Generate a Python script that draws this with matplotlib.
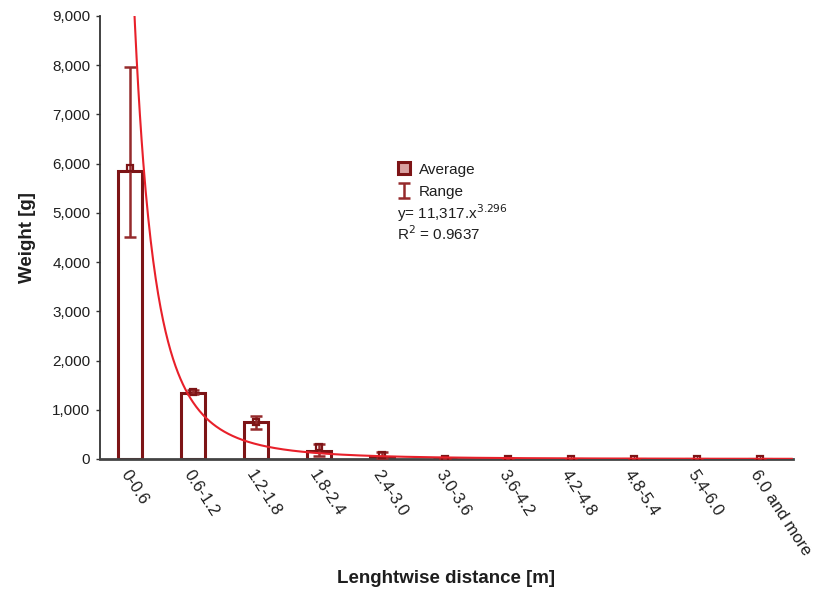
import numpy as np
import matplotlib.pyplot as plt
from matplotlib.lines import Line2D
from matplotlib.ticker import FuncFormatter

plt.rcParams['font.family'] = ['Liberation Sans', 'DejaVu Sans']

# data
categories = ['0-0.6', '0.6-1.2', '1.2-1.8', '1.8-2.4', '2.4-3.0', '3.0-3.6',
              '3.6-4.2', '4.2-4.8', '4.8-5.4', '5.4-6.0', '6.0 and more']
bar_values = [5860, 1340, 750, 165, 45, 8, 6, 5, 5, 4, 4]
average = [5910, 1370, 750, 240, 90, 8, 6, 5, 5, 4, 4]
range_low = [4510, 1330, 615, 60, 30, 4, 3, 3, 3, 2, 2]
range_high = [7960, 1400, 870, 305, 140, 12, 10, 8, 8, 7, 7]

# power fit shown on the chart
fit_a = 11317
fit_b = 3.296
fit_r2 = 0.9637

bar_col = '#7d1416'
err_col = '#952a2c'
fit_col = '#e8202a'
txt_col = '#1e1e1e'

x = np.arange(len(categories))
avg = np.array(average)
yerr = [avg - np.array(range_low), np.array(range_high) - avg]

fig = plt.figure(figsize=(8.15, 5.92), dpi=100)
ax = fig.add_axes([0.1227, 0.2247, 0.8503, 0.7483])

ax.bar(x, bar_values, width=0.38, color='white', edgecolor=bar_col, linewidth=2.2, zorder=2)
ax.errorbar(x, avg, yerr=yerr, fmt='none', ecolor=err_col, elinewidth=1.8,
            capsize=4.5, capthick=1.8, zorder=3, label='Range')
ax.plot(x, avg, ls='none', marker='s', ms=5, mfc='none', mec=bar_col, mew=1.6, zorder=4)

xf = np.linspace(0, 10.5, 800)
ax.plot(xf, fit_a * (xf + 1) ** (-fit_b), color=fit_col, lw=1.5, zorder=5)

ax.set_xlim(-0.476, 10.52)
ax.set_ylim(0, 9000)
ax.set_yticks(np.arange(0, 9001, 1000))
ax.yaxis.set_major_formatter(FuncFormatter(lambda v, p: f'{int(v):,}'))
ax.set_xticks(x)
ax.set_xticklabels(categories, rotation=-57, ha='left', va='top', rotation_mode='anchor')

for s in ['top', 'right']:
    ax.spines[s].set_visible(False)
ax.spines['left'].set_color('#333333')
ax.spines['left'].set_linewidth(1.3)
ax.spines['bottom'].set_color('#444444')
ax.spines['bottom'].set_linewidth(2)
ax.tick_params(axis='y', direction='out', length=3, width=1, color='#333333',
               labelsize=11, labelcolor=txt_col, pad=4)
ax.tick_params(axis='x', direction='in', length=3, width=1, color='#333333',
               labelsize=12, labelcolor=txt_col, pad=6)

ax.set_ylabel('Weight [g]', fontsize=13.5, fontweight='bold', color=txt_col)
ax.yaxis.set_label_coords(-0.093, 0.5)
ax.set_xlabel('Lenghtwise distance [m]', fontsize=13.5, fontweight='bold', color=txt_col)
ax.xaxis.set_label_coords(0.5, -0.27)
ax.xaxis.label.set_va('center')

avg_handle = Line2D([], [], ls='none', marker='s', ms=9, mfc='#d9a0a0', mec=bar_col, mew=2.2)
handles, labels = ax.get_legend_handles_labels()
leg = fig.legend([avg_handle] + handles, ['Average'] + labels, loc='upper left',
                 bbox_to_anchor=(0.478, 0.738), frameon=False, fontsize=11,
                 handlelength=0.9, handletextpad=0.5, labelspacing=0.55, borderpad=0)
for t in leg.get_texts():
    t.set_color(txt_col)

fig.text(0.487, 0.640, f'y= {fit_a:,}.x$^{{{fit_b}}}$', fontsize=11, color=txt_col, va='center')
fig.text(0.487, 0.605, f'R$^2$ = {fit_r2}', fontsize=11, color=txt_col, va='center')

fig.savefig('out.png', dpi=100)
